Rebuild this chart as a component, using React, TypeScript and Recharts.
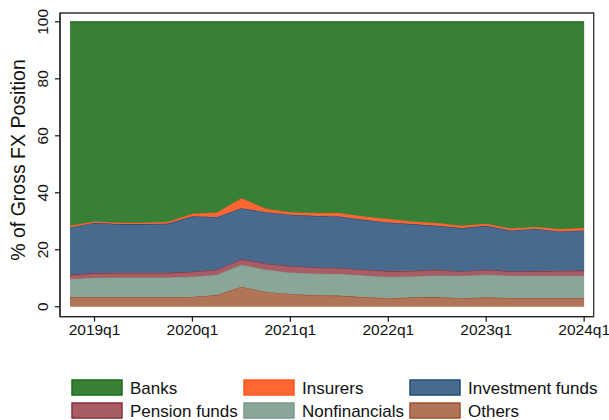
import React from 'react';
import { AreaChart, Area, XAxis, YAxis, ReferenceArea } from 'recharts';

const quarters = ['2018q4','2019q1','2019q2','2019q3','2019q4','2020q1','2020q2','2020q3','2020q4','2021q1','2021q2','2021q3','2021q4','2022q1','2022q2','2022q3','2022q4','2023q1','2023q2','2023q3','2023q4','2024q1'];
const others = [3.3,3.3,3.3,3.3,3.3,3.5,4.1,7.0,5.2,4.5,4.0,3.9,3.4,3.0,3.3,3.4,3.0,3.3,3.1,3.1,3.1,3.1];
const nonfinancials = [6.4,6.9,7.0,7.0,7.0,7.0,7.1,7.7,7.8,7.5,7.6,7.6,7.6,7.4,7.3,7.6,7.9,7.9,7.8,7.8,7.8,7.8];
const pensionFunds = [1.5,1.6,1.6,1.6,1.6,1.8,1.8,2.0,2.1,2.3,2.2,2.1,2.0,2.1,2.0,2.0,1.5,1.8,1.5,1.6,1.7,1.8];
const investmentFunds = [16.6,17.7,17.1,17.1,17.3,19.5,18.5,17.9,18.1,18.0,18.1,18.1,17.5,17.1,16.4,15.4,15.2,15.4,14.4,14.9,13.8,14.1];
const insurers = [0.6,0.4,0.5,0.5,0.6,0.8,1.6,3.5,1.2,0.9,1.0,1.2,1.2,1.2,0.9,1.0,0.8,0.7,0.7,0.6,0.9,0.8];
const banks = [71.6,70.1,70.5,70.5,70.2,67.4,66.9,61.9,65.6,66.8,67.1,67.1,68.3,69.2,70.1,70.6,71.6,70.9,72.5,72.0,72.7,72.4];
const xTickIdx = [1,5,9,13,17,21];
const yTicks = [0,20,40,60,80,100];

const series = [
  { key: 'others', name: 'Others', fill: '#b07458', stroke: '#a0522d' },
  { key: 'nonfin', name: 'Nonfinancials', fill: '#8aa698', stroke: '#7a9a8a' },
  { key: 'pension', name: 'Pension funds', fill: '#a85c64', stroke: '#8b2f3c' },
  { key: 'inv', name: 'Investment funds', fill: '#486a8c', stroke: '#1f4e79' },
  { key: 'ins', name: 'Insurers', fill: '#ff6633', stroke: '#ff5a1f' },
  { key: 'banks', name: 'Banks', fill: '#388035', stroke: '#1a6b1a' },
];

const data = quarters.map((q, i) => ({
  t: i,
  others: others[i],
  nonfin: nonfinancials[i],
  pension: pensionFunds[i],
  inv: investmentFunds[i],
  ins: insurers[i],
  banks: banks[i],
}));

const FONT = '"Liberation Sans", Arial, sans-serif';
const X_DOMAIN: [number, number] = [-0.41, 21.39];
const Y_DOMAIN: [number, number] = [-3.5, 103.1];

const YTick = (props: any) => {
  const { x, y, payload } = props;
  const bx = x - 5;
  return (
    <text x={bx} y={y} transform={`rotate(-90 ${bx} ${y})`} textAnchor="middle" fontSize={15.5} fontFamily={FONT} fill="#111">
      {payload.value}
    </text>
  );
};

const YTitle = () => (
  <text x={25} y={160} transform="rotate(-90 25 160)" textAnchor="middle" fontSize={19.5} fontFamily={FONT} fill="#111">
    % of Gross FX Position
  </text>
);

const legendOrder = [
  ['banks', 'ins', 'inv'],
  ['pension', 'nonfin', 'others'],
];
const colX = [72, 244, 410];
const rowY = [380, 403];

const LegendBlock = () => (
  <svg width={609} height={50} style={{ display: 'block', position: 'absolute', left: 0, top: 372 }}>
    {legendOrder.map((row, r) =>
      row.map((k, c) => {
        const s = series.find((d) => d.key === k)!;
        const y = rowY[r] - 372;
        return (
          <g key={k}>
            <rect x={colX[c]} y={y} width={50} height={15} fill={s.fill} stroke={s.stroke} strokeWidth={1.5} />
            <text x={colX[c] + 58} y={y + 14} fontSize={17} fontFamily={FONT} fill="#111">{s.name}</text>
          </g>
        );
      })
    )}
  </svg>
);

export default function App() {
  return (
    <div style={{ position: 'absolute', left: 0, top: 0, width: 609, height: 420, background: '#fff', overflow: 'hidden' }}>
      <AreaChart width={609} height={420} data={data} margin={{ top: 13, right: 15.3, bottom: 73.3, left: 0 }}>
        <XAxis
          type="number"
          dataKey="t"
          domain={X_DOMAIN}
          allowDataOverflow
          ticks={xTickIdx}
          tickFormatter={(v: number) => quarters[v]}
          height={30}
          tickSize={5}
          axisLine={{ stroke: '#222', strokeWidth: 1.3 }}
          tickLine={{ stroke: '#222', strokeWidth: 1.3 }}
          tick={{ fontSize: 15.5, fontFamily: FONT, fill: '#111' }}
          interval={0}
        />
        <YAxis
          type="number"
          domain={Y_DOMAIN}
          allowDataOverflow
          ticks={yTicks}
          width={60}
          tickSize={5}
          axisLine={{ stroke: '#222', strokeWidth: 1.3 }}
          tickLine={{ stroke: '#222', strokeWidth: 1.3 }}
          tick={<YTick />}
          label={<YTitle />}
        />
        {series.map((s) => (
          <Area
            key={s.key}
            type="linear"
            dataKey={s.key}
            name={s.name}
            stackId="1"
            fill={s.fill}
            fillOpacity={1}
            stroke={s.stroke}
            strokeWidth={1.2}
            isAnimationActive={false}
            dot={false}
            activeDot={false}
          />
        ))}
        <ReferenceArea x1={X_DOMAIN[0]} x2={X_DOMAIN[1]} y1={Y_DOMAIN[0]} y2={Y_DOMAIN[1]} fill="none" stroke="#333" strokeWidth={1.3} ifOverflow="visible" />
      </AreaChart>
      <LegendBlock />
    </div>
  );
}
